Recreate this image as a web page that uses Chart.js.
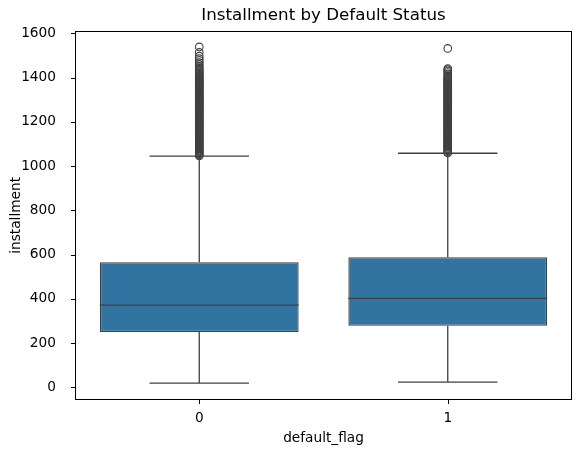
<!DOCTYPE html>
<html>
<head>
<meta charset="utf-8">
<script src="https://cdn.jsdelivr.net/npm/chart.js@4.4.0/dist/chart.umd.min.js"></script>
<style>
    html, body { margin: 0; padding: 0; background: #fff; }
</style>
</head>
<body>
<canvas id="chart" width="580" height="453"></canvas>
<script>
const categories = ['0', '1'];
const q1 = [249, 278];
const median = [371, 402];
const q3 = [565, 588];
const whiskerLow = [18, 23];
const whiskerHigh = [1045, 1058];
const outliers0 = [1046, 1050, 1055, 1059, 1064, 1068, 1073, 1077, 1082, 1086, 1091, 1095, 1100, 1104,
    1109, 1113, 1118, 1122, 1127, 1131, 1136, 1140, 1145, 1149, 1154, 1158, 1163, 1167, 1172, 1176,
    1181, 1185, 1190, 1194, 1199, 1203, 1208, 1212, 1217, 1221, 1226, 1230, 1235, 1239, 1244, 1248,
    1253, 1257, 1262, 1266, 1271, 1275, 1280, 1284, 1289, 1293, 1298, 1302, 1307, 1311, 1316, 1320,
    1325, 1329, 1334, 1338, 1343, 1347, 1352, 1356, 1361, 1365, 1370, 1374, 1379, 1383, 1388, 1392,
    1397, 1401, 1406, 1410, 1415, 1420, 1426, 1432, 1438, 1445, 1452, 1460, 1468, 1477, 1486, 1497,
    1514, 1539];
const outliers1 = [1059, 1063, 1068, 1072, 1077, 1081, 1086, 1090, 1095, 1099, 1104, 1108, 1113, 1117,
    1122, 1126, 1131, 1135, 1140, 1144, 1149, 1153, 1158, 1162, 1167, 1171, 1176, 1180, 1185, 1189,
    1194, 1198, 1203, 1207, 1212, 1216, 1221, 1225, 1230, 1234, 1239, 1243, 1248, 1252, 1257, 1261,
    1266, 1270, 1275, 1279, 1284, 1288, 1293, 1297, 1302, 1306, 1311, 1315, 1320, 1324, 1329, 1333,
    1338, 1342, 1347, 1351, 1356, 1360, 1365, 1369, 1374, 1378, 1383, 1387, 1392, 1397, 1403, 1409,
    1416, 1423, 1430, 1436, 1441, 1532];
const yTicks = [0, 200, 400, 600, 800, 1000, 1200, 1400, 1600];

const lineColor = '#3f3f3f';
const boxColor = '#3274a1';
const font = 'DejaVu Sans';

const outlierPoints = [
    ...outliers0.map(v => ({ x: categories[0], y: v })),
    ...outliers1.map(v => ({ x: categories[1], y: v }))
];

// whiskers, caps and medians
const boxParts = {
    id: 'boxParts',
    afterDatasetsDraw(chart) {
        const ctx = chart.ctx;
        const y = chart.scales.y;
        const meta = chart.getDatasetMeta(1);
        ctx.save();
        ctx.strokeStyle = lineColor;
        ctx.lineWidth = 1.3;
        meta.data.forEach((bar, i) => {
            const cx = bar.x;
            const half = bar.width / 2;
            const cap = bar.width / 4;
            ctx.beginPath();
            ctx.moveTo(cx, y.getPixelForValue(q3[i]));
            ctx.lineTo(cx, y.getPixelForValue(whiskerHigh[i]));
            ctx.moveTo(cx, y.getPixelForValue(q1[i]));
            ctx.lineTo(cx, y.getPixelForValue(whiskerLow[i]));
            ctx.moveTo(cx - cap, y.getPixelForValue(whiskerHigh[i]));
            ctx.lineTo(cx + cap, y.getPixelForValue(whiskerHigh[i]));
            ctx.moveTo(cx - cap, y.getPixelForValue(whiskerLow[i]));
            ctx.lineTo(cx + cap, y.getPixelForValue(whiskerLow[i]));
            ctx.moveTo(cx - half, y.getPixelForValue(median[i]));
            ctx.lineTo(cx + half, y.getPixelForValue(median[i]));
            ctx.stroke();
        });
        ctx.restore();
    },
    // axes frame and tick marks
    afterDraw(chart) {
        const ctx = chart.ctx;
        const x = chart.scales.x;
        const y = chart.scales.y;
        const a = chart.chartArea;
        ctx.save();
        ctx.strokeStyle = '#000';
        ctx.lineWidth = 1;
        ctx.strokeRect(Math.round(a.left) + 0.5, Math.round(a.top) + 0.5,
            Math.round(a.right - a.left) - 1, Math.round(a.bottom - a.top) - 1);
        ctx.beginPath();
        categories.forEach((c, i) => {
            const px = Math.round(x.getPixelForValue(i)) + 0.5;
            ctx.moveTo(px, Math.round(a.bottom));
            ctx.lineTo(px, Math.round(a.bottom) + 4);
        });
        yTicks.forEach(v => {
            const py = Math.round(y.getPixelForValue(v)) + 0.5;
            ctx.moveTo(Math.round(a.left) - 4, py);
            ctx.lineTo(Math.round(a.left), py);
        });
        ctx.stroke();
        ctx.restore();
    }
};

new Chart(document.getElementById('chart'), {
    type: 'bar',
    data: {
        labels: categories,
        datasets: [
            {
                type: 'line',
                data: outlierPoints,
                showLine: false,
                pointStyle: 'circle',
                pointRadius: 3.8,
                pointBorderWidth: 1.1,
                pointBorderColor: lineColor,
                pointBackgroundColor: 'rgba(0,0,0,0)',
                order: 0
            },
            {
                data: categories.map((c, i) => [q1[i], q3[i]]),
                backgroundColor: boxColor,
                borderColor: lineColor,
                borderWidth: 1.3,
                borderSkipped: false,
                barPercentage: 0.8,
                categoryPercentage: 1,
                order: 1
            }
        ]
    },
    options: {
        responsive: false,
        animation: false,
        layout: { padding: { left: 0, right: 8, top: 0, bottom: 0 } },
        plugins: {
            legend: { display: false },
            tooltip: { enabled: false },
            title: {
                display: true,
                text: 'Installment by Default Status',
                fullSize: false,
                color: '#000',
                font: { family: font, size: 16.7, weight: 'normal' },
                padding: { top: 6, bottom: 4.7 }
            }
        },
        scales: {
            x: {
                offset: true,
                grid: { display: false },
                border: { display: false },
                ticks: { color: '#000', font: { family: font, size: 13.7 }, padding: 2 },
                title: {
                    display: true,
                    text: 'default_flag',
                    color: '#000',
                    font: { family: font, size: 13.7 },
                    padding: { top: 0, bottom: 6.5 }
                },
                afterFit(scale) { scale.height = 53; }
            },
            y: {
                min: -58,
                max: 1612,
                grid: { display: false },
                border: { display: false },
                ticks: {
                    color: '#000',
                    font: { family: font, size: 13.7 },
                    padding: 11,
                    callback: value => String(value)
                },
                afterBuildTicks(scale) { scale.ticks = yTicks.map(v => ({ value: v })); },
                title: {
                    display: true,
                    text: 'installment',
                    color: '#000',
                    font: { family: font, size: 13.7 },
                    padding: { top: 8, bottom: 0 }
                },
                afterFit(scale) { scale.width = 75; }
            }
        }
    },
    plugins: [boxParts]
});
</script>
</body>
</html>
